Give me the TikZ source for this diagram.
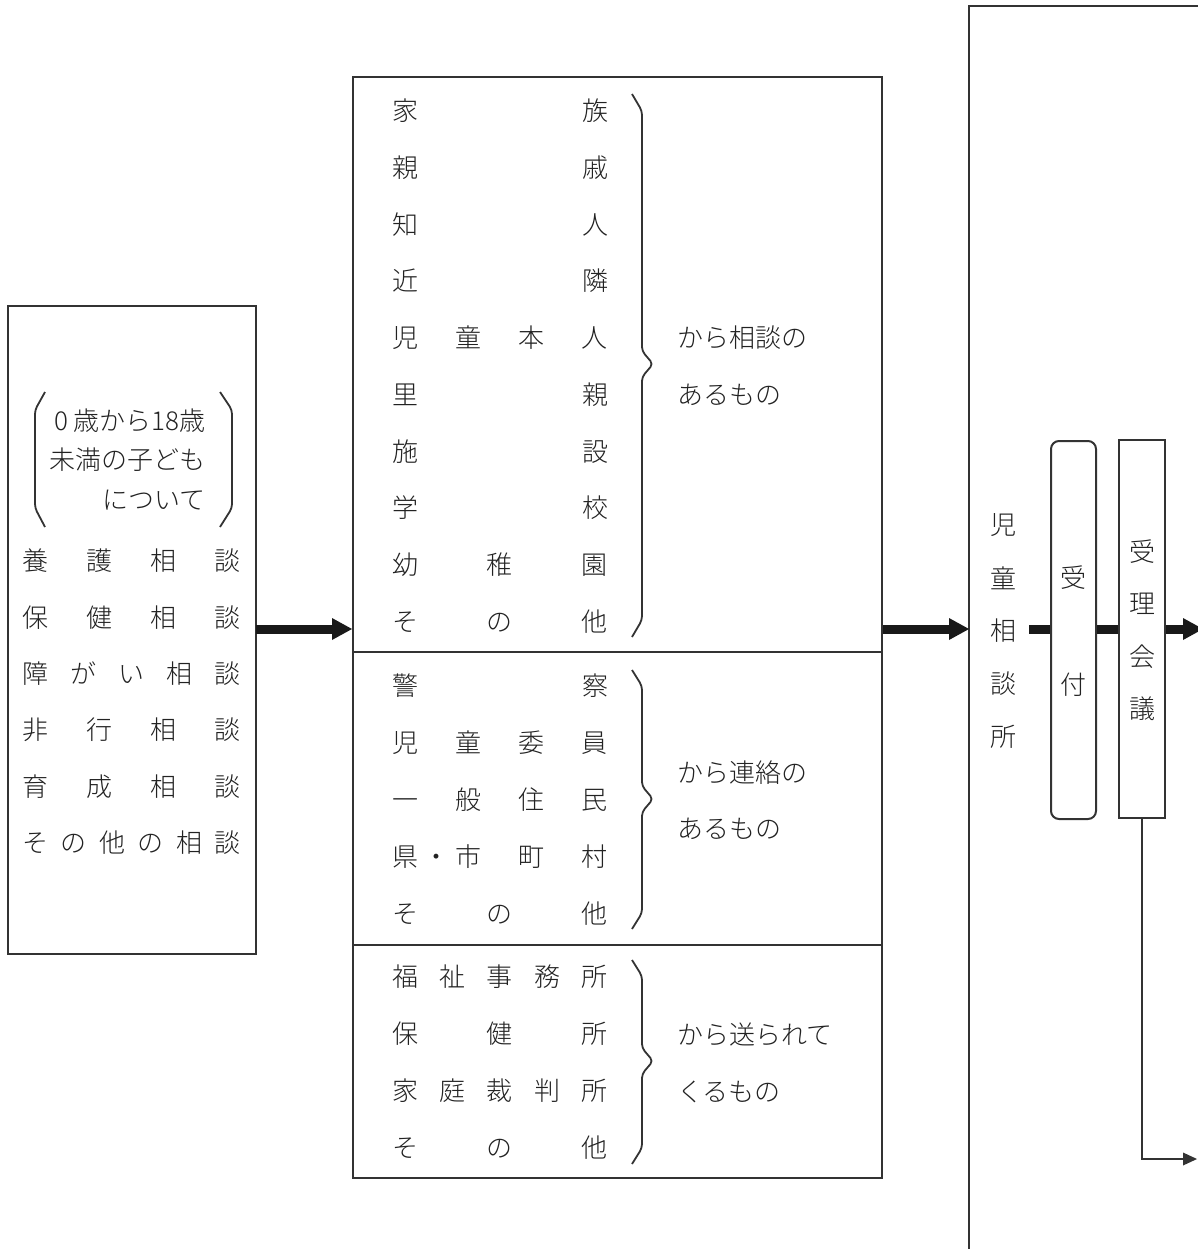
\documentclass[tikz,border=0pt]{standalone}
\usepackage{fontspec}
\IfFontExistsTF{Noto Sans CJK JP Light}{\setmainfont{Noto Sans CJK JP Light}}{\setmainfont{Noto Sans CJK JP}}
\usetikzlibrary{arrows.meta}
\definecolor{lc}{HTML}{333333}
\definecolor{tc}{HTML}{222222}
\newcommand{\rowL}[1]{\makebox[219pt][s]{#1}}
\newcommand{\rowM}[1]{\makebox[216pt][s]{#1}}
\begin{document}
\begin{tikzpicture}[x=1pt,y=-1pt,
  every node/.style={font=\fontsize{26}{30}\selectfont, text=tc, inner sep=0pt},
  frame/.style={draw=lc, line width=2pt, fill=none},
  fat/.style={draw=black!90, line width=9pt},
  fatarrow/.style={fat, -{Triangle[length=20pt,width=22pt,line width=0pt]}},
  thin/.style={draw=lc, line width=2pt},
  bracepath/.style={draw=lc, line width=1.8pt, rounded corners=4pt},
]
\useasboundingbox (0,0) rectangle (1197,1249);

% left box
\node[frame, minimum width=248pt, minimum height=648pt] (lbox) at (132,630) {};
\draw[bracepath] (45,392) -- (35,410) -- (35,508) -- (45,527);
\draw[bracepath] (220,392) -- (232,410) -- (232,508) -- (220,527);
\node[anchor=east] (la) at (206,421) {0 歳から18歳};
\node[anchor=east] (lb) at (206,460) {未満の子ども};
\node[anchor=east] (lc) at (206,500) {について};
\node (l1) at (131.5,561) {\rowL{養\hfill{}護\hfill{}相\hfill{}談}};
\node (l2) at (131.5,617.4) {\rowL{保\hfill{}健\hfill{}相\hfill{}談}};
\node (l3) at (131.5,673.8) {\rowL{障\hfill{}が\hfill{}い\hfill{}相\hfill{}談}};
\node (l4) at (131.5,730.2) {\rowL{非\hfill{}行\hfill{}相\hfill{}談}};
\node (l5) at (131.5,786.6) {\rowL{育\hfill{}成\hfill{}相\hfill{}談}};
\node (l6) at (131.5,843) {\rowL{そ\hfill{}の\hfill{}他\hfill{}の\hfill{}相\hfill{}談}};

% middle boxes
\node[frame, minimum width=529pt, minimum height=575pt] (s1) at (617.5,364.5) {};
\node[frame, minimum width=529pt, minimum height=293pt] (s2) at (617.5,798.5) {};
\node[frame, minimum width=529pt, minimum height=233pt] (s3) at (617.5,1061.5) {};

\node (a1) at (500,111) {\rowM{家\hfill{}族}};
\node (a2) at (500,167.7) {\rowM{親\hfill{}戚}};
\node (a3) at (500,224.4) {\rowM{知\hfill{}人}};
\node (a4) at (500,281.1) {\rowM{近\hfill{}隣}};
\node (a5) at (500,337.8) {\rowM{児\hfill{}童\hfill{}本\hfill{}人}};
\node (a6) at (500,394.5) {\rowM{里\hfill{}親}};
\node (a7) at (500,451.2) {\rowM{施\hfill{}設}};
\node (a8) at (500,507.9) {\rowM{学\hfill{}校}};
\node (a9) at (500,564.6) {\rowM{幼\hfill{}稚\hfill{}園}};
\node (a10) at (500,621.3) {\rowM{そ\hfill{}の\hfill{}他}};
\draw[bracepath] (632,94) -- (642,111) -- (642,351) -- (653,364) -- (642,377) -- (642,620) -- (632,637);
\node[anchor=west] (at1) at (677,338) {から相談の};
\node[anchor=west] (at2) at (677,395) {あるもの};

\node (b1) at (500,686) {\rowM{警\hfill{}察}};
\node (b2) at (500,742.8) {\rowM{児\hfill{}童\hfill{}委\hfill{}員}};
\node (b3) at (500,799.6) {\rowM{一\hfill{}般\hfill{}住\hfill{}民}};
\node (b4) at (500,856.4) {\rowM{県\hfill{}\makebox[0pt]{・}\hfill{}市\hfill{}\hfill{}町\hfill{}\hfill{}村}};
\node (b5) at (500,913.2) {\rowM{そ\hfill{}の\hfill{}他}};
\draw[bracepath] (632,670) -- (642,686) -- (642,786) -- (653,799) -- (642,812) -- (642,913) -- (632,929);
\node[anchor=west] (bt1) at (677,773) {から連絡の};
\node[anchor=west] (bt2) at (677,829) {あるもの};

\node (c1) at (500,977) {\rowM{福\hfill{}祉\hfill{}事\hfill{}務\hfill{}所}};
\node (c2) at (500,1034) {\rowM{保\hfill{}健\hfill{}所}};
\node (c3) at (500,1091) {\rowM{家\hfill{}庭\hfill{}裁\hfill{}判\hfill{}所}};
\node (c4) at (500,1148) {\rowM{そ\hfill{}の\hfill{}他}};
\draw[bracepath] (632,960) -- (642,976) -- (642,1048) -- (653,1061) -- (642,1074) -- (642,1148) -- (632,1164);
\node[anchor=west] (ct1) at (677,1035) {から送られて};
\node[anchor=west] (ct2) at (677,1092) {くるもの};

% big right box (open)
\coordinate (bigTL) at (969,6);
\draw[draw=lc, line width=2.6pt] (1200,6) -- (bigTL) -- (969,1252);

\node (j1) at (1003,525) {児};
\node (j2) at (1003,578) {童};
\node (j3) at (1003,631) {相};
\node (j4) at (1003,684) {談};
\node (j5) at (1003,737) {所};

\node[frame, rounded corners=8pt, minimum width=45pt, minimum height=378pt] (uk) at (1073.5,630) {};
\node (u1) at (1073.5,578) {受};
\node (u2) at (1073.5,685) {付};

\node[frame, minimum width=46pt, minimum height=378pt] (jr) at (1142,629) {};
\node (r1) at (1142,552) {受};
\node (r2) at (1142,604) {理};
\node (r3) at (1142,657) {会};
\node (r4) at (1142,709) {議};

% connectors
\coordinate (k1) at (1029,629);
\coordinate (k2) at (1203,629);
\coordinate (k3) at (1142,1159);
\coordinate (k4) at (1197,1159);
\draw[fatarrow] (256,629) -- (352,629);
\draw[fatarrow] (s1.east |- 0,629) -- (bigTL |- 0,629);
\draw[fat] (k1) -- (uk.west |- k1);
\draw[fat] (uk.east |- k1) -- (jr.west |- k1);
\draw[fatarrow] (jr.east |- k1) -- (k2);
\draw[thin, -{Triangle[length=14pt,width=13pt,line width=0pt]}] (jr.south) -- (k3) -- (k4);
\end{tikzpicture}
\end{document}
